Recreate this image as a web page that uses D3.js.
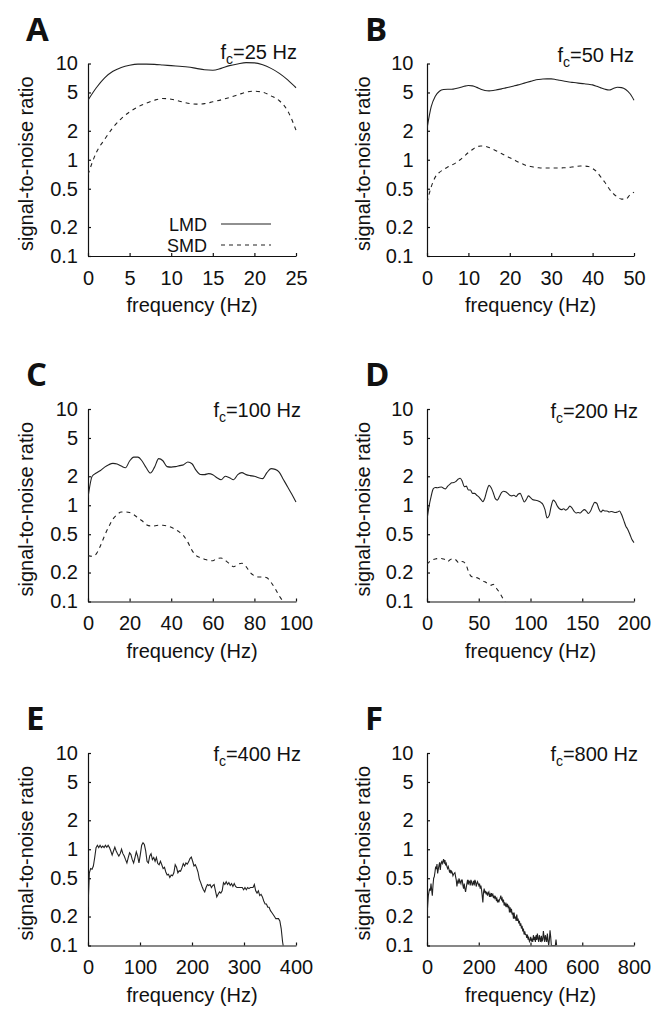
<!DOCTYPE html>
<html>
<head>
<meta charset="utf-8">
<title>signal-to-noise ratio vs frequency</title>
<script src="https://d3js.org/d3.v7.min.js"></script>
<style>
body { margin: 0; background: #fff; }
svg text { font-family: "Liberation Sans", Arial, sans-serif; fill: #111; }
.panel-letter { font-family: "Open Sans", "Noto Sans", sans-serif !important; font-weight: 700; }
.axis path, .axis line { stroke: #111; stroke-width: 1.2; }
.snr { fill: none; stroke: #222; stroke-width: 1.1; }
.snr.smd { stroke-dasharray: 4 4; }
</style>
</head>
<body>
<script>
// shared log axis
var yTicks = [0.1, 0.2, 0.5, 1, 2, 5, 10];
var yTickLabels = ["0.1", "0.2", "0.5", "1", "2", "5", "10"];

var panelNames = ["A", "B", "C", "D", "E", "F"];
var cutoffs = [25, 50, 100, 200, 400, 800];
var xTicks = [
  [0, 5, 10, 15, 20, 25],
  [0, 10, 20, 30, 40, 50],
  [0, 20, 40, 60, 80, 100],
  [0, 50, 100, 150, 200],
  [0, 100, 200, 300, 400],
  [0, 200, 400, 600, 800]
];
var legendNames = ["LMD", "SMD"];

// spectra, sampled on a regular frequency grid (Hz per sample)
var stepA = 1;
var lmdA = [4.16, 5.6, 7.1, 8.3, 9.1, 9.6, 9.85, 9.85, 9.8, 9.65, 9.5, 9.35, 9.2, 8.9, 8.6, 8.5, 8.9, 9.5, 9.9, 10.2, 10.15, 9.7, 8.9, 7.9, 6.76, 5.6];
var smdA = [0.7, 1.19, 1.63, 2.16, 2.68, 3.14, 3.54, 3.87, 4.16, 4.33, 4.26, 4.06, 3.87, 3.78, 3.83, 4.0, 4.19, 4.43, 4.72, 5.04, 5.15, 5.04, 4.61, 4.1, 3.22, 2.03];

var stepB = 1;
var lmdB = [2.1, 3.54, 4.57, 5.15, 5.37, 5.4, 5.4, 5.5, 5.63, 5.8, 5.9, 5.85, 5.65, 5.4, 5.24, 5.2, 5.25, 5.35, 5.45, 5.58, 5.71, 5.85, 6.0, 6.17, 6.34, 6.52, 6.71, 6.82, 6.9, 6.93, 6.92, 6.83, 6.7, 6.57, 6.45, 6.37, 6.3, 6.22, 6.15, 6.08, 6.0, 5.8, 5.58, 5.4, 5.3, 5.5, 5.67, 5.62, 5.37, 4.88, 4.16];
var smdB = [0.36, 0.52, 0.66, 0.74, 0.79, 0.84, 0.88, 0.93, 1.0, 1.09, 1.19, 1.28, 1.36, 1.39, 1.38, 1.34, 1.28, 1.22, 1.16, 1.1, 1.05, 1.0, 0.95, 0.91, 0.87, 0.85, 0.835, 0.825, 0.82, 0.82, 0.82, 0.82, 0.82, 0.825, 0.83, 0.84, 0.85, 0.86, 0.86, 0.85, 0.81, 0.75, 0.66, 0.58, 0.5, 0.445, 0.41, 0.39, 0.39, 0.43, 0.46];

var stepC = 2;
var lmdC = [1.2, 2.0, 2.16, 2.3, 2.49, 2.64, 2.72, 2.68, 2.55, 2.45, 2.88, 3.16, 3.16, 2.88, 2.45, 2.16, 2.49, 3.05, 2.9, 2.52, 2.49, 2.52, 2.58, 2.64, 2.81, 2.7, 2.3, 2.09, 2.08, 2.13, 2.08, 1.93, 1.84, 2.0, 1.93, 1.84, 2.08, 2.18, 2.08, 2.03, 2.0, 1.93, 1.89, 2.18, 2.4, 2.36, 2.2, 1.84, 1.55, 1.3, 1.08];
var smdC = [0.3, 0.295, 0.313, 0.38, 0.485, 0.6, 0.72, 0.8, 0.85, 0.85, 0.84, 0.8, 0.74, 0.69, 0.63, 0.61, 0.61, 0.62, 0.62, 0.61, 0.59, 0.56, 0.526, 0.48, 0.414, 0.34, 0.3, 0.285, 0.275, 0.267, 0.265, 0.28, 0.283, 0.267, 0.247, 0.23, 0.243, 0.25, 0.23, 0.2, 0.185, 0.18, 0.18, 0.176, 0.158, 0.136, 0.114, 0.099];

var stepD = 2;
var lmdD = [0.71, 0.98, 1.24, 1.48, 1.53, 1.52, 1.54, 1.55, 1.5, 1.48, 1.58, 1.65, 1.71, 1.72, 1.77, 1.86, 1.91, 1.78, 1.56, 1.58, 1.44, 1.44, 1.33, 1.33, 1.27, 1.22, 1.15, 1.09, 1.2, 1.44, 1.61, 1.52, 1.35, 1.17, 1.13, 1.23, 1.35, 1.4, 1.38, 1.33, 1.27, 1.25, 1.27, 1.23, 1.3, 1.33, 1.2, 1.08, 1.15, 1.25, 1.2, 1.15, 1.13, 1.12, 1.1, 1.07, 1.02, 0.9, 0.74, 0.78, 0.98, 1.13, 1.08, 0.98, 0.92, 0.9, 0.92, 0.89, 0.92, 0.98, 0.94, 0.87, 0.83, 0.84, 0.83, 0.87, 0.9, 0.87, 0.82, 0.87, 0.98, 1.07, 1.05, 0.92, 0.85, 0.89, 0.87, 0.87, 0.85, 0.86, 0.85, 0.84, 0.85, 0.87, 0.8, 0.7, 0.61, 0.56, 0.5, 0.44, 0.41];
var smdD = [0.243, 0.256, 0.265, 0.272, 0.277, 0.279, 0.28, 0.28, 0.276, 0.27, 0.26, 0.27, 0.277, 0.276, 0.27, 0.255, 0.25, 0.26, 0.255, 0.236, 0.206, 0.186, 0.18, 0.176, 0.177, 0.173, 0.167, 0.163, 0.16, 0.155, 0.152, 0.148, 0.151, 0.142, 0.133, 0.125, 0.114, 0.104, 0.097];

var stepE = 2.58;
var lmdE = [0.25, 0.57, 0.63, 0.62, 0.67, 0.82, 1.04, 1.1, 1.04, 1.1, 1.04, 1.08, 1.04, 1.1, 1.05, 1.1, 1.04, 0.96, 0.87, 0.96, 1.05, 0.96, 0.9, 0.85, 0.9, 1.0, 0.9, 0.85, 0.78, 0.72, 0.82, 0.92, 0.88, 0.78, 0.72, 0.82, 0.94, 0.85, 0.72, 0.88, 1.1, 1.17, 1.12, 0.96, 0.75, 0.72, 0.85, 0.9, 0.78, 0.82, 0.75, 0.82, 0.71, 0.69, 0.75, 0.69, 0.63, 0.65, 0.58, 0.54, 0.55, 0.51, 0.54, 0.53, 0.57, 0.69, 0.65, 0.57, 0.6, 0.59, 0.64, 0.71, 0.67, 0.72, 0.7, 0.74, 0.8, 0.83, 0.75, 0.67, 0.69, 0.64, 0.58, 0.49, 0.45, 0.41, 0.38, 0.36, 0.4, 0.43, 0.42, 0.43, 0.4, 0.42, 0.43, 0.37, 0.32, 0.34, 0.36, 0.35, 0.37, 0.45, 0.43, 0.46, 0.43, 0.45, 0.42, 0.44, 0.41, 0.44, 0.41, 0.4, 0.4, 0.4, 0.4, 0.4, 0.38, 0.4, 0.38, 0.4, 0.39, 0.4, 0.4, 0.4, 0.43, 0.37, 0.35, 0.37, 0.33, 0.34, 0.32, 0.29, 0.27, 0.27, 0.25, 0.25, 0.23, 0.22, 0.21, 0.2, 0.19, 0.19, 0.19, 0.18, 0.15, 0.11, 0.09];

var stepF = 2.57;
var lmdF = [0.2, 0.26, 0.33, 0.36, 0.39, 0.37, 0.44, 0.38, 0.33, 0.42, 0.5, 0.52, 0.58, 0.66, 0.62, 0.7, 0.56, 0.62, 0.68, 0.73, 0.61, 0.71, 0.74, 0.71, 0.75, 0.79, 0.71, 0.77, 0.68, 0.71, 0.66, 0.63, 0.66, 0.62, 0.57, 0.61, 0.56, 0.59, 0.57, 0.53, 0.55, 0.56, 0.57, 0.52, 0.48, 0.41, 0.46, 0.48, 0.44, 0.48, 0.46, 0.44, 0.48, 0.48, 0.42, 0.39, 0.44, 0.39, 0.36, 0.4, 0.44, 0.48, 0.43, 0.47, 0.46, 0.42, 0.48, 0.46, 0.42, 0.44, 0.47, 0.42, 0.48, 0.46, 0.41, 0.44, 0.46, 0.44, 0.42, 0.44, 0.39, 0.42, 0.38, 0.33, 0.28, 0.36, 0.39, 0.35, 0.37, 0.34, 0.36, 0.33, 0.35, 0.36, 0.32, 0.34, 0.32, 0.35, 0.33, 0.34, 0.31, 0.33, 0.31, 0.32, 0.3, 0.31, 0.28, 0.3, 0.28, 0.3, 0.31, 0.33, 0.3, 0.31, 0.28, 0.3, 0.26, 0.28, 0.26, 0.27, 0.25, 0.27, 0.25, 0.26, 0.22, 0.25, 0.22, 0.24, 0.21, 0.22, 0.19, 0.22, 0.19, 0.2, 0.18, 0.21, 0.18, 0.19, 0.17, 0.18, 0.16, 0.17, 0.15, 0.16, 0.14, 0.15, 0.13, 0.14, 0.13, 0.13, 0.12, 0.13, 0.115, 0.12, 0.11, 0.114, 0.123, 0.11, 0.118, 0.109, 0.128, 0.114, 0.123, 0.109, 0.128, 0.114, 0.133, 0.118, 0.109, 0.128, 0.118, 0.109, 0.126, 0.111, 0.114, 0.141, 0.123, 0.109, 0.128, 0.118, 0.109, 0.133, 0.114, 0.1, 0.114, 0.144, 0.123, 0.1, 0.1, 0.1, 0.1, 0.1, 0.1, 0.1, 0.115, 0.1];

var series = [
  {lmd: lmdA, smd: smdA, step: stepA},
  {lmd: lmdB, smd: smdB, step: stepB},
  {lmd: lmdC, smd: smdC, step: stepC},
  {lmd: lmdD, smd: smdD, step: stepD},
  {lmd: lmdE, smd: null, step: stepE},
  {lmd: lmdF, smd: null, step: stepF}
];

// page layout
var width = 664, height = 1009;
var cols = [{x0: 88, x1: 296, pad: 10, lab: 55}, {x0: 427, x1: 634, pad: 13.5, lab: 57}];
var rows = [{top: 63.5, bot: 256}, {top: 409, bot: 601.5}, {top: 753, bot: 945.5}];
var fcOffset = [[1, -5], [0, -2], [5, 8], [4, 9], [5, 8], [4, 8]];
var fontSize = "20px";

var svg = d3.select("body").append("svg")
  .attr("width", width)
  .attr("height", height);

var defs = svg.append("defs");

panelNames.forEach(function(name, i) {
  var c = cols[i % 2], r = rows[Math.floor(i / 2)];
  var x = d3.scaleLinear().domain([0, cutoffs[i]]).range([c.x0, c.x1]);
  var y = d3.scaleLog().domain([0.1, 10]).range([r.bot, r.top]);
  var g = svg.append("g").attr("class", "panel");

  defs.append("clipPath").attr("id", "clip" + name)
    .append("rect")
    .attr("x", c.x0).attr("y", r.top - 3)
    .attr("width", c.x1 - c.x0 + 1).attr("height", r.bot - r.top + 3);

  // axes
  g.append("g").attr("class", "axis")
    .attr("transform", "translate(" + c.x0 + ",0)")
    .call(d3.axisLeft(y).tickValues(yTicks)
      .tickFormat(function(d, k) { return yTickLabels[k]; })
      .tickSizeInner(-3).tickSizeOuter(0).tickPadding(c.pad))
    .call(function(a) { a.selectAll("text").style("font-size", fontSize); });

  g.append("g").attr("class", "axis")
    .attr("transform", "translate(0," + r.bot + ")")
    .call(d3.axisBottom(x).tickValues(xTicks[i])
      .tickFormat(d3.format("d"))
      .tickSizeInner(-3).tickSizeOuter(0).tickPadding(14.5))
    .call(function(a) { a.selectAll("text").style("font-size", fontSize); });

  // axis titles
  g.append("text")
    .attr("transform", "translate(" + (c.x0 - c.lab) + "," + ((r.top + r.bot) / 2 + 4) + ") rotate(-90)")
    .attr("text-anchor", "middle")
    .style("font-size", fontSize)
    .text("signal-to-noise ratio");

  g.append("text")
    .attr("x", (c.x0 + c.x1) / 2)
    .attr("y", r.bot + 56)
    .attr("text-anchor", "middle")
    .style("font-size", fontSize)
    .text("frequency (Hz)");

  // panel letter
  g.append("text").attr("class", "panel-letter")
    .attr("x", c.x0 - 62)
    .attr("y", r.top - 23)
    .style("font-size", "33px")
    .text(name);

  // cutoff frequency label
  var fc = g.append("text")
    .attr("x", c.x1 + fcOffset[i][0])
    .attr("y", r.top + fcOffset[i][1])
    .attr("text-anchor", "end")
    .style("font-size", fontSize);
  fc.append("tspan").text("f");
  fc.append("tspan").attr("dy", 5).style("font-size", "14px").text("c");
  fc.append("tspan").attr("dy", -5).text("=" + cutoffs[i] + " Hz");

  // curves
  var s = series[i];
  var line = d3.line()
    .x(function(v, k) { return x(k * s.step); })
    .y(function(v) { return y(v); })
    .curve(i < 4 ? d3.curveMonotoneX : d3.curveLinear);

  var plot = g.append("g").attr("clip-path", "url(#clip" + name + ")");
  plot.append("path").attr("class", "snr lmd").attr("d", line(s.lmd));
  if (s.smd) plot.append("path").attr("class", "snr smd").attr("d", line(s.smd));

  // legend only in the first panel
  if (i === 0) {
    legendNames.forEach(function(lbl, k) {
      var ly = y(0.2) - 3 + k * 21;
      g.append("text")
        .attr("x", c.x0 + 119).attr("y", ly + 6.5)
        .attr("text-anchor", "end")
        .style("font-size", "18px")
        .text(lbl);
      g.append("line")
        .attr("class", "snr " + lbl.toLowerCase())
        .attr("x1", c.x0 + 133).attr("x2", c.x0 + 183)
        .attr("y1", ly).attr("y2", ly);
    });
  }
});
</script>
</body>
</html>
